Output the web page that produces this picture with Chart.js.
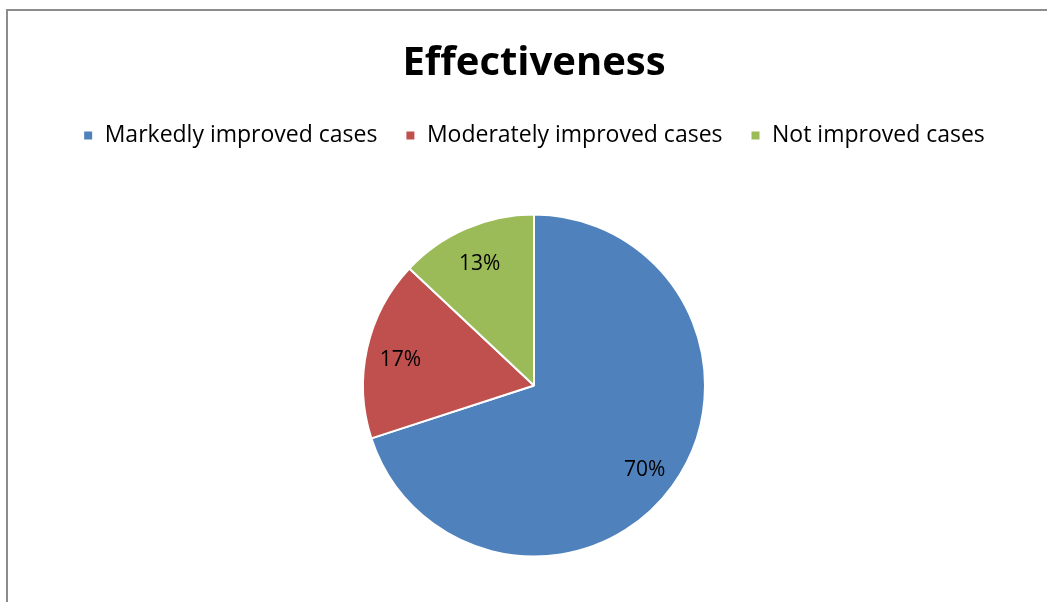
<!DOCTYPE html>
<html>
<head>
<meta charset="utf-8">
<title>Effectiveness</title>
<script src="https://cdn.jsdelivr.net/npm/chart.js@4"></script>
<style>
	html, body { margin: 0; padding: 0; background: #fff; overflow: hidden; }
	#wrap { position: relative; width: 1047px; height: 602px; overflow: hidden; }
	#frame {
		position: absolute; left: 6px; top: 9px; width: 1060px; height: 620px;
		border: 2px solid #8c8c8c; box-sizing: border-box;
	}
	#chart { position: absolute; left: 0; top: 0; }
</style>
</head>
<body>
<div id="wrap">
	<div id="frame"></div>
	<!-- canvas runs past the bottom edge; the frame is clipped there -->
	<canvas id="chart" width="1047" height="618"></canvas>
</div>
<script>
const categories = ["Markedly improved cases", "Moderately improved cases", "Not improved cases"];
const shares = [70, 17, 13];
const sliceColors = ["#4F81BD", "#C0504D", "#9BBB59"];

const fontFamily = "'Open Sans', Lato, 'Liberation Sans', sans-serif";

// percentage labels placed inside each slice, ~80% out from the centre
const sliceLabels = {
	id: "sliceLabels",
	afterDatasetsDraw(chart) {
		const ctx = chart.ctx;
		const meta = chart.getDatasetMeta(0);
		ctx.save();
		ctx.font = `21px ${fontFamily}`;
		ctx.fillStyle = "#000";
		ctx.textAlign = "center";
		ctx.textBaseline = "middle";
		meta.data.forEach((arc, i) => {
			const { x, y, startAngle, endAngle, outerRadius } = arc.getProps(["x", "y", "startAngle", "endAngle", "outerRadius"], true);
			const mid = (startAngle + endAngle) / 2;
			const r = outerRadius * 0.8;
			ctx.fillText(`${shares[i]}%`, x + Math.cos(mid) * r, y + Math.sin(mid) * r + 4);
		});
		ctx.restore();
	}
};

new Chart(document.getElementById("chart"), {
	type: "pie",
	data: {
		labels: categories,
		datasets: [{
			data: shares,
			backgroundColor: sliceColors,
			borderColor: "#fff",
			borderWidth: 2,
			radius: 171
		}]
	},
	options: {
		responsive: false,
		animation: false,
		layout: { padding: { left: 21, right: 0, top: 0, bottom: 4 } },
		plugins: {
			title: {
				display: true,
				text: "Effectiveness",
				color: "#000",
				font: { family: fontFamily, size: 40, weight: "bold" },
				padding: { top: 40, bottom: 8 }
			},
			legend: {
				position: "top",
				labels: {
					color: "#000",
					font: { family: fontFamily, size: 23 },
					boxWidth: 10,
					boxHeight: 10,
					padding: 28
				}
			},
			tooltip: { enabled: false }
		}
	},
	plugins: [sliceLabels]
});
</script>
</body>
</html>
